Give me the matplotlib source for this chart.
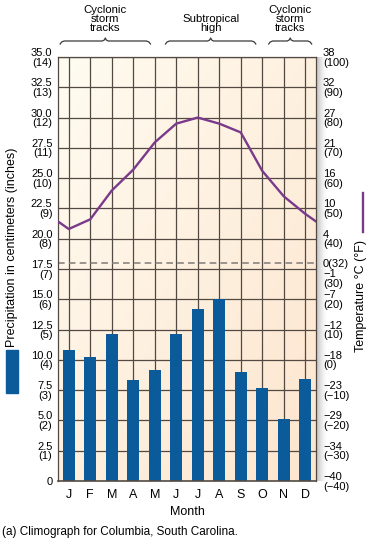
import matplotlib
matplotlib.use("Agg")
import matplotlib.pyplot as plt
import numpy as np

plt.rcParams['font.family'] = ['Liberation Sans', 'DejaVu Sans']

months = ['J', 'F', 'M', 'A', 'M', 'J', 'J', 'A', 'S', 'O', 'N', 'D']
precip_cm = [10.8, 10.2, 12.1, 8.3, 9.2, 12.1, 14.2, 15.0, 9.0, 7.7, 5.1, 8.4]
temp_f = [43.2, 46.4, 55.9, 62.8, 71.8, 78.0, 80.0, 78.0, 75.1, 62.4, 54.0, 48.2]

cm_ticks = [0, 2.5, 5, 7.5, 10, 12.5, 15, 17.5, 20, 22.5, 25, 27.5, 30, 32.5, 35]
cm_labels = ['0', '2.5\n(1)', '5.0\n(2)', '7.5\n(3)', '10.0\n(4)', '12.5\n(5)',
             '15.0\n(6)', '17.5\n(7)', '20.0\n(8)', '22.5\n(9)', '25.0\n(10)',
             '27.5\n(11)', '30.0\n(12)', '32.5\n(13)', '35.0\n(14)']
f_ticks = [-40, -30, -20, -10, 0, 10, 20, 30, 32, 40, 50, 60, 70, 80, 90, 100]
f_labels = ['\u221240\n(\u221240)', '\u221234\n(\u221230)', '\u221229\n(\u221220)',
            '\u221223\n(\u221210)', '\u221218\n(0)', '\u221212\n(10)', '\u22127\n(20)',
            '\u22121\n(30)', '0(32)', '4\n(40)', '10\n(50)', '16\n(60)', '21\n(70)',
            '27\n(80)', '32\n(90)', '38\n(100)']
regions = [('Cyclonic\nstorm\ntracks', -0.4, 3.8),
           ('Subtropical\nhigh', 4.5, 8.7),
           ('Cyclonic\nstorm\ntracks', 9.3, 11.3)]

W, H = 369, 542
fig = plt.figure(figsize=(W / 100, H / 100), dpi=100)
fig.patch.set_facecolor('white')

def box(l, t, r, b):
    return [l / W, 1 - b / H, (r - l) / W, (b - t) / H]

# soft shadow strip right of the plot
sh = fig.add_axes(box(316, 57, 327, 481))
grad = np.linspace(0, 1, 50)[None, :]
sh.imshow(grad, cmap='Greys_r', aspect='auto', vmin=-0.3, vmax=1.0, alpha=0.35)
sh.axis('off')

ax = fig.add_axes(box(58, 57, 316, 481))
x = np.arange(len(months))
ax.set_xlim(-0.5, 11.5)
ax.set_ylim(0, 35)

# background gradient
gx, gy = np.meshgrid(np.linspace(0, 1, 100), np.linspace(0, 1, 100))
g = 0.5 * gx + 0.5 * gy
c0 = np.array([255, 252, 241]) / 255
c1 = np.array([253, 229, 206]) / 255
img = c0[None, None, :] * (1 - g[..., None]) + c1[None, None, :] * g[..., None]
ax.imshow(img, extent=(-0.5, 11.5, 0, 35), origin='upper', aspect='auto', zorder=0)

grid_c = '#524a42'
for v in cm_ticks[1:]:
    ax.axhline(v, color=grid_c, lw=0.9, zorder=1)
for xi in x:
    ax.axvline(xi, color=grid_c, lw=0.9, zorder=1)
ax.axhline(18, color='#8a8580', lw=1.2, ls=(0, (4, 2.5)), zorder=1)

ax.bar(x, precip_cm, width=0.57, color='#0b5b9a', zorder=2)

ax.set_yticks(cm_ticks)
ax.set_yticklabels(cm_labels, fontsize=8, linespacing=0.95)
ax.set_xticks(x)
ax.set_xticklabels(months, fontsize=9)
ax.tick_params(axis='both', length=0, pad=4)
ax.tick_params(axis='x', pad=6)
for s in ax.spines.values():
    s.set_color(grid_c)
    s.set_linewidth(0.9)
ax.spines['bottom'].set_linewidth(1.2)

ax2 = ax.twinx()
ax2.set_ylim(-40, 100)
xt = np.concatenate(([-1], x, [12]))
yt = [temp_f[-1]] + temp_f + [temp_f[0]]
ax2.plot(xt, yt, color='#7a3a8a', lw=1.7, zorder=3, solid_joinstyle='round')
ax2.set_xlim(-0.5, 11.5)
ax2.set_yticks(f_ticks)
ax2.set_yticklabels(f_labels, fontsize=8, linespacing=0.95)
ax2.tick_params(axis='y', length=0, pad=5)
for lab in ax2.get_yticklabels():
    if lab.get_text().startswith('\u22121\n'):
        lab.set_va('top')
for s in ax2.spines.values():
    s.set_visible(False)

# overlay for annotations in pixel space
ov = fig.add_axes([0, 0, 1, 1], zorder=5)
ov.set_xlim(0, W)
ov.set_ylim(H, 0)
ov.axis('off')

def to_px(xd):
    return 58 + (xd + 0.5) * (316 - 58) / 12

for txt, a, b in regions:
    l, r = to_px(a), to_px(b)
    m = (l + r) / 2
    yb = 41
    bx = [l, l + 1.5, l + 4, m - 3, m - 1, m, m + 1, m + 3, r - 4, r - 1.5, r]
    by = [yb + 3, yb + 1, yb, yb, yb - 1, yb - 3, yb - 1, yb, yb, yb + 1, yb + 3]
    ov.plot(bx, by, color='#3a3a3a', lw=0.9)
    ov.text(m, 33, txt, ha='center', va='bottom', fontsize=8.2, linespacing=0.85)

ov.text(187, 512, 'Month', ha='center', va='center', fontsize=9)
ov.text(2, 532, '(a) Climograph for Columbia, South Carolina.', ha='left',
        va='center', fontsize=8.5)

ov.add_patch(plt.Rectangle((6, 350), 12, 43, color='#0b5b9a'))
ov.text(12, 247, 'Precipitation in centimeters (inches)', rotation=90,
        ha='center', va='center', fontsize=9)
ov.plot([363, 363], [193, 232], color='#7a3a8a', lw=1.7)
ov.text(361, 296, 'Temperature \u00b0C (\u00b0F)', rotation=90,
        ha='center', va='center', fontsize=9)

fig.savefig('out.png', dpi=100, facecolor='white')
